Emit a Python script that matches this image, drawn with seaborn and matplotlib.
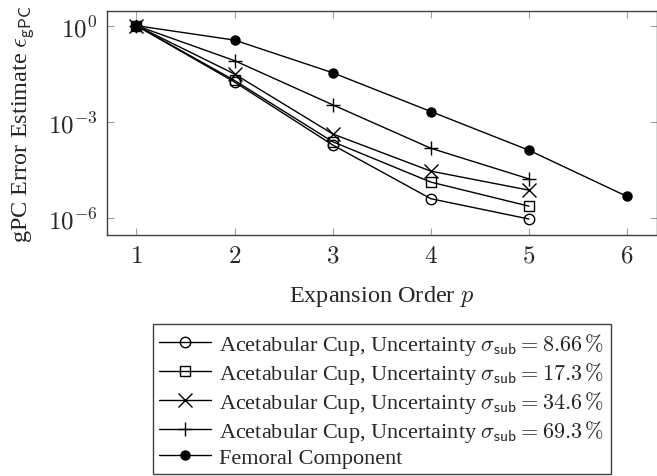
import numpy as np
import pandas as pd
import matplotlib
matplotlib.use('Agg')
import matplotlib.pyplot as plt
import seaborn as sns

# expansion orders and error estimates
order_cup = [1, 2, 3, 4, 5]
order_fem = [1, 2, 3, 4, 5, 6]
err_866 = [1.0, 0.0174, 1.9e-4, 4.0e-6, 9.3e-7]
err_173 = [1.0, 0.0195, 2.4e-4, 1.32e-5, 2.34e-6]
err_346 = [1.0, 0.031, 4.2e-4, 2.9e-5, 7.4e-6]
err_693 = [1.0, 0.081, 3.4e-3, 1.5e-4, 1.66e-5]
err_fem = [1.0, 0.355, 0.034, 2.1e-3, 1.3e-4, 4.7e-6]

labels = [r'Acetabular Cup, Uncertainty $\sigma_{\mathsf{sub}} = 8.66\,\%$',
          r'Acetabular Cup, Uncertainty $\sigma_{\mathsf{sub}} = 17.3\,\%$',
          r'Acetabular Cup, Uncertainty $\sigma_{\mathsf{sub}} = 34.6\,\%$',
          r'Acetabular Cup, Uncertainty $\sigma_{\mathsf{sub}} = 69.3\,\%$',
          'Femoral Component']

sns.set_style('ticks')
plt.rcParams['font.family'] = ['Liberation Serif', 'DejaVu Serif']
plt.rcParams['mathtext.fontset'] = 'cm'

fig = plt.figure(figsize=(6.57, 4.77), dpi=100)
ax = fig.add_axes([107/657, 1-236/477, (656.5-107)/657, (236-12)/477])

series = [(order_cup, err_866, 'o', 'none'),
          (order_cup, err_173, 's', 'none'),
          (order_cup, err_346, 'x', 'k'),
          (order_cup, err_693, '+', 'k'),
          (order_fem, err_fem, 'o', 'k')]
for (x, y, m, fc), lab in zip(series, labels):
    df = pd.DataFrame({'p': x, 'err': y})
    ms = 6.5 if fc == 'k' and m == 'o' else 10 if m in 'x+' else 7.5
    sns.lineplot(data=df, x='p', y='err', ax=ax, color='k', lw=1.0,
                 marker=m, markersize=ms, markerfacecolor=fc,
                 markeredgecolor='k', markeredgewidth=1.0, label=lab, legend=False)

ax.set_yscale('log')
ax.set_xlim(0.7, 6.3)
ax.set_ylim(10**-6.53, 10**0.458)
ax.set_xticks([1, 2, 3, 4, 5, 6])
ax.set_xticklabels([f'${v}$' for v in [1, 2, 3, 4, 5, 6]])
ax.set_yticks([1, 1e-3, 1e-6])
ax.set_yticklabels([r'$10^{0}$', r'$10^{-3}$', r'$10^{-6}$'])
ax.yaxis.set_minor_locator(matplotlib.ticker.NullLocator())
ax.tick_params(direction='in', length=5, width=0.8, color='#a0a0a0',
               top=True, right=True, labelsize=18, pad=7)
for s in ax.spines.values():
    s.set_linewidth(1.0)
    s.set_color('#404040')

ax.set_xlabel('Expansion Order $p$', fontsize=17.5, labelpad=12)
ax.set_ylabel(r'gPC Error Estimate $\epsilon_{\mathsf{gPC}}$', fontsize=17.5, labelpad=8)

h, l = ax.get_legend_handles_labels()
leg = fig.legend(h, l, loc='upper center', bbox_to_anchor=(382/657, 1-325/477),
                 fontsize=16, frameon=True, fancybox=False, framealpha=1,
                 edgecolor='#404040', handlelength=2.3, borderpad=0.3,
                 labelspacing=0.14, handletextpad=0.4, borderaxespad=0)
leg.get_frame().set_linewidth(1.0)

fig.savefig('out.png', dpi=100)
